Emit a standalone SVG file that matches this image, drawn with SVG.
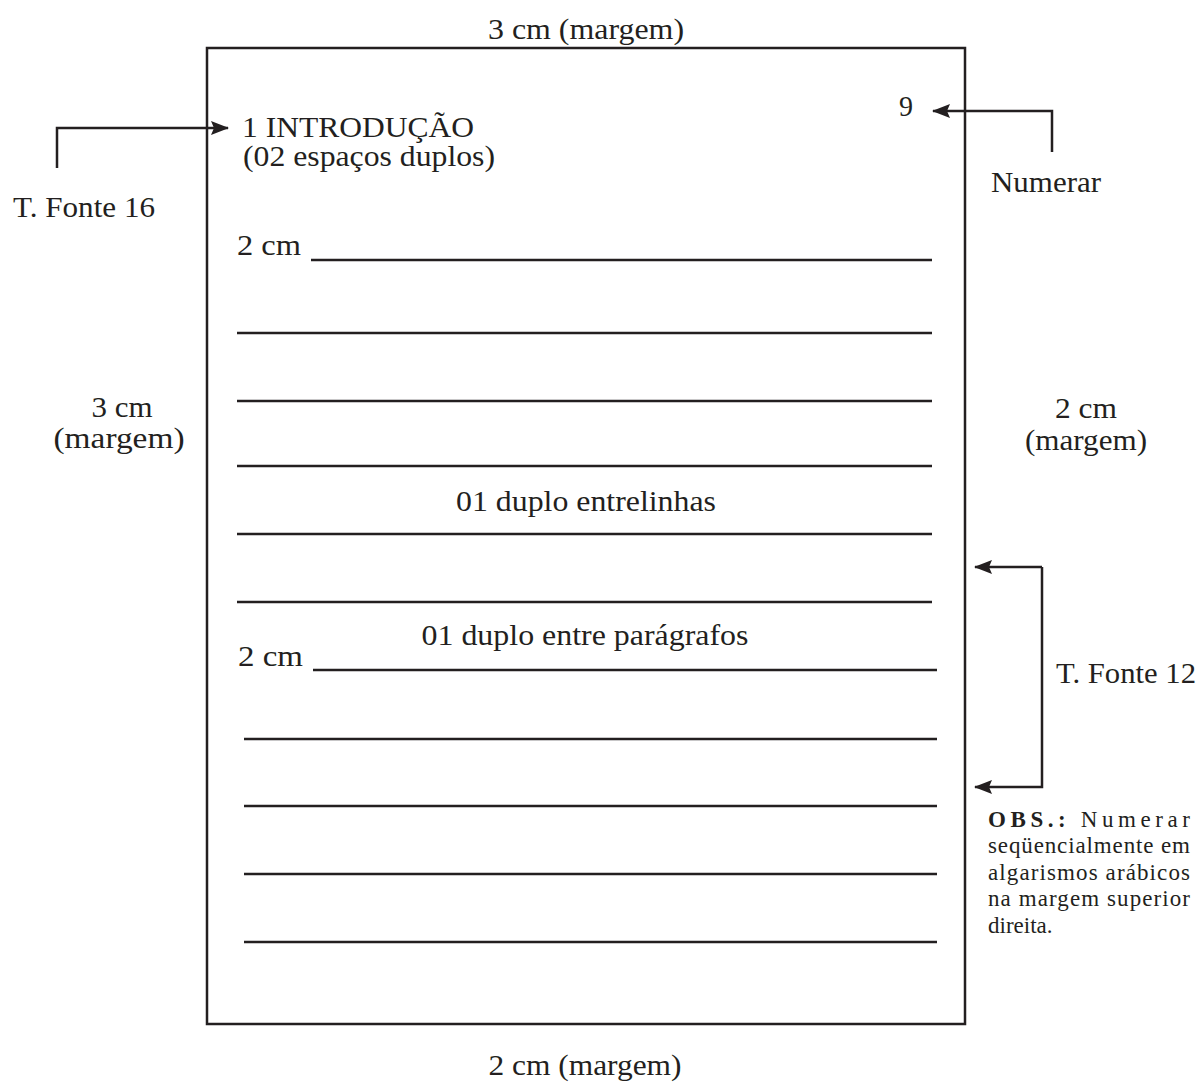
<svg xmlns="http://www.w3.org/2000/svg" width="1200" height="1082" viewBox="0 0 1200 1082">
<style>
text{font-family:"Liberation Serif","Times New Roman",serif;fill:#231f20;font-size:29px}
.m{text-anchor:middle}
.ln{stroke:#231f20;stroke-width:2.5}
.c{stroke:#231f20;stroke-width:2.5;fill:none}
text.obs{font-size:23px}
</style>
<defs>
<marker id="ah" viewBox="0 0 18 14" refX="17" refY="7" markerWidth="18" markerHeight="14" markerUnits="userSpaceOnUse" orient="auto">
<path d="M0,0 L18,7 L0,14 L3,7 z" fill="#231f20"/>
</marker>
</defs>
<g id="page">
<rect x="207" y="48" width="758" height="976" fill="none" stroke="#231f20" stroke-width="2.5"/>
</g>
<g id="margins">
<text class="m" x="586" y="39" textLength="196" lengthAdjust="spacingAndGlyphs">3 cm (margem)</text>
<text class="m" x="585" y="1075" textLength="193" lengthAdjust="spacingAndGlyphs">2 cm (margem)</text>
<text class="m" x="122" y="417" textLength="61" lengthAdjust="spacingAndGlyphs">3 cm</text>
<text class="m" x="119" y="448" textLength="131" lengthAdjust="spacingAndGlyphs">(margem)</text>
<text class="m" x="1086" y="418" textLength="62" lengthAdjust="spacingAndGlyphs">2 cm</text>
<text class="m" x="1086" y="450" textLength="122" lengthAdjust="spacingAndGlyphs">(margem)</text>
</g>
<g id="heading">
<text x="242" y="137" textLength="232" lengthAdjust="spacingAndGlyphs">1 INTRODUÇÃO</text>
<text x="243" y="166" textLength="252" lengthAdjust="spacingAndGlyphs">(02 espaços duplos)</text>
</g>
<g id="pagenum">
<text x="899" y="116" textLength="14" lengthAdjust="spacingAndGlyphs">9</text>
</g>
<g id="lines">
<text x="237" y="255" textLength="64" lengthAdjust="spacingAndGlyphs">2 cm</text>
<line class="ln" x1="311" y1="260" x2="932" y2="260"/>
<line class="ln" x1="237" y1="333" x2="932" y2="333"/>
<line class="ln" x1="237" y1="401" x2="932" y2="401"/>
<line class="ln" x1="237" y1="466" x2="932" y2="466"/>
<text class="m" x="586" y="511" textLength="260" lengthAdjust="spacingAndGlyphs">01 duplo entrelinhas</text>
<line class="ln" x1="237" y1="534" x2="932" y2="534"/>
<line class="ln" x1="237" y1="602" x2="932" y2="602"/>
<text class="m" x="585" y="645" textLength="327" lengthAdjust="spacingAndGlyphs">01 duplo entre parágrafos</text>
<text x="238" y="666" textLength="65" lengthAdjust="spacingAndGlyphs">2 cm</text>
<line class="ln" x1="313" y1="670" x2="937" y2="670"/>
<line class="ln" x1="244" y1="739" x2="937" y2="739"/>
<line class="ln" x1="244" y1="806" x2="937" y2="806"/>
<line class="ln" x1="244" y1="874" x2="937" y2="874"/>
<line class="ln" x1="244" y1="942" x2="937" y2="942"/>
</g>
<g id="labels">
<text x="13" y="217" textLength="142" lengthAdjust="spacingAndGlyphs">T. Fonte 16</text>
<text x="991" y="192" textLength="110" lengthAdjust="spacingAndGlyphs">Numerar</text>
<text x="1056" y="683" textLength="140" lengthAdjust="spacingAndGlyphs">T. Fonte 12</text>
</g>
<g id="obs">
<text class="obs" x="988" y="827" textLength="202" lengthAdjust="spacing"><tspan font-weight="bold">OBS.:</tspan> Numerar</text>
<text class="obs" x="988" y="853" textLength="202" lengthAdjust="spacing">seqüencialmente em</text>
<text class="obs" x="988" y="880" textLength="202" lengthAdjust="spacing">algarismos arábicos</text>
<text class="obs" x="988" y="906" textLength="202" lengthAdjust="spacing">na margem superior</text>
<text class="obs" x="988" y="933">direita.</text>
</g>
<g id="connectors">
<polyline class="c" points="57,168 57,128 228,128" marker-end="url(#ah)"/>
<polyline class="c" points="1052,152 1052,111 933,111" marker-end="url(#ah)"/>
<polyline class="c" points="1042,567 975,567" marker-end="url(#ah)"/>
<polyline class="c" points="1042,567 1042,787 975,787" marker-end="url(#ah)"/>
</g>
</svg>
